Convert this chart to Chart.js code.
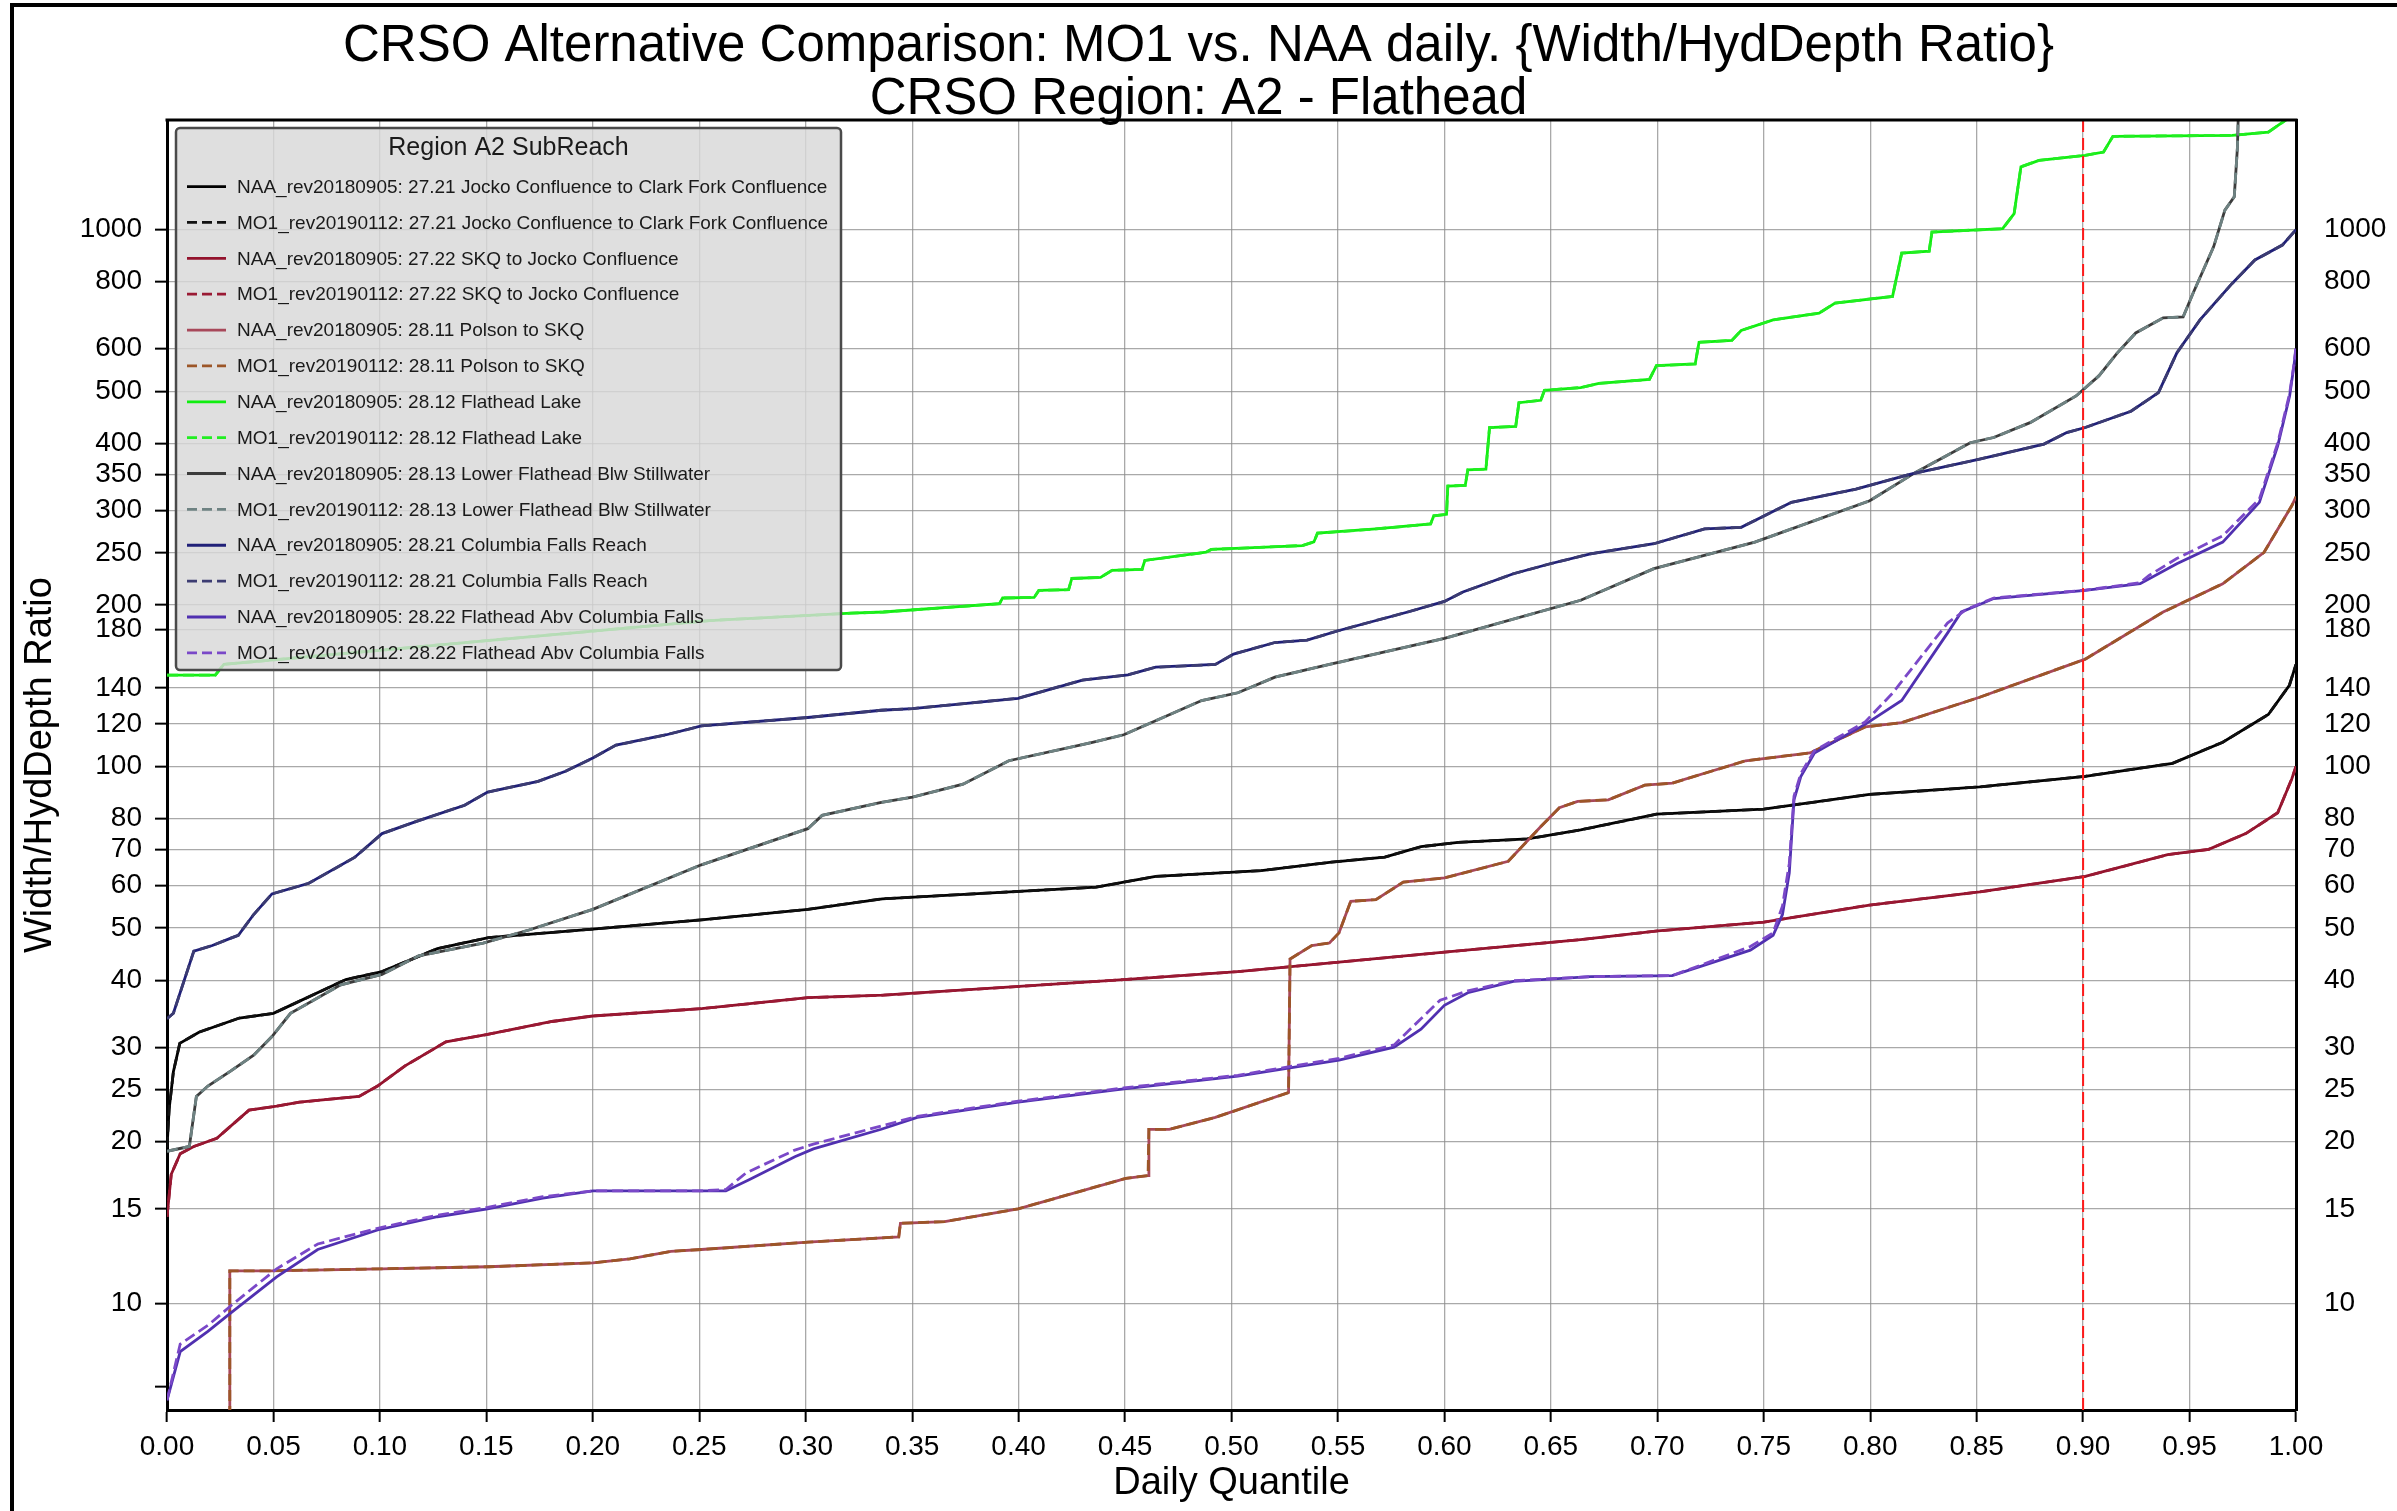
<!DOCTYPE html>
<html><head><meta charset="utf-8">
<script src="https://cdn.jsdelivr.net/npm/chart.js@4"></script>
<style>html,body{margin:0;padding:0;background:#fff;}canvas{display:block;}</style>
</head><body>
<canvas id="c" width="2397" height="1511"></canvas>
<script>
// ---------- DATA ----------
const chartTitle = ['CRSO Alternative Comparison: MO1 vs. NAA daily. {Width/HydDepth Ratio}', 'CRSO Region: A2 - Flathead'];
const xAxisTitle = 'Daily Quantile';
const yAxisTitle = 'Width/HydDepth Ratio';
const legendTitle = 'Region A2 SubReach';
const xTickValues = [0,0.05,0.10,0.15,0.20,0.25,0.30,0.35,0.40,0.45,0.50,0.55,0.60,0.65,0.70,0.75,0.80,0.85,0.90,0.95,1.00];
const yTickValues = [7,10,15,20,25,30,40,50,60,70,80,100,120,140,180,200,250,300,350,400,500,600,800,1000];
const yTickLabels = ['','10','15','20','25','30','40','50','60','70','80','100','120','140','180','200','250','300','350','400','500','600','800','1000'];
const yMin = 6.33, yMax = 1600;
const refQuantile = 0.90;

const seriesLabels = [
 'NAA_rev20180905: 27.21 Jocko Confluence to Clark Fork Confluence',
 'MO1_rev20190112: 27.21 Jocko Confluence to Clark Fork Confluence',
 'NAA_rev20180905: 27.22 SKQ to Jocko Confluence',
 'MO1_rev20190112: 27.22 SKQ to Jocko Confluence',
 'NAA_rev20180905: 28.11 Polson to SKQ',
 'MO1_rev20190112: 28.11 Polson to SKQ',
 'NAA_rev20180905: 28.12 Flathead Lake',
 'MO1_rev20190112: 28.12 Flathead Lake',
 'NAA_rev20180905: 28.13 Lower Flathead Blw Stillwater',
 'MO1_rev20190112: 28.13 Lower Flathead Blw Stillwater',
 'NAA_rev20180905: 28.21 Columbia Falls Reach',
 'MO1_rev20190112: 28.21 Columbia Falls Reach',
 'NAA_rev20180905: 28.22 Flathead Abv Columbia Falls',
 'MO1_rev20190112: 28.22 Flathead Abv Columbia Falls'
];

// 27.21 Jocko Confluence to Clark Fork Confluence
const jockoX = [0,0.001,0.003,0.006,0.015,0.034,0.05,0.058,0.084,0.101,0.127,0.151,0.2,0.251,0.301,0.336,0.4364,0.4644,0.514,0.546,0.572,0.589,0.6065,0.639,0.664,0.6996,0.75,0.7997,0.8514,0.901,0.942,0.9656,0.987,0.9969,1.0];
const jockoNAA = [19.5,23,27,30.5,32,34,34.7,35.9,40.1,41.5,45.8,48,49.8,51.8,54.2,56.7,59.6,62.4,64,66.3,67.8,70.9,72.2,73.3,76.2,81.5,83.3,88.7,91.6,95.9,101.4,111,125,141.7,155];
const jockoMO1 = [19.5,23,27,30.5,32,34,34.7,35.9,40.1,41.5,45.8,48,49.8,51.8,54.2,56.7,59.6,62.4,64,66.3,67.8,70.9,72.2,73.3,76.2,81.5,83.3,88.7,91.6,95.9,101.4,111,125,141.7,155];

// 27.22 SKQ to Jocko Confluence
const skqX = [0,0.002,0.0062,0.0126,0.0234,0.0385,0.0515,0.0622,0.0902,0.0989,0.1118,0.131,0.1506,0.1808,0.2,0.251,0.301,0.3365,0.4494,0.503,0.5505,0.6,0.664,0.7003,0.75,0.7997,0.8514,0.901,0.9397,0.959,0.9764,0.9914,0.998,1.0];
const skqNAA = [14.5,17.4,19.0,19.6,20.3,22.9,23.3,23.7,24.3,25.4,27.7,30.7,31.7,33.5,34.3,35.4,37.1,37.5,40.1,41.5,43.2,45.1,47.6,49.4,51.3,55.2,58.4,62.4,68.5,70.1,75,82,94.8,100];
const skqMO1 = [14.5,17.4,19.0,19.6,20.3,22.9,23.3,23.7,24.3,25.4,27.7,30.7,31.7,33.5,34.3,35.4,37.1,37.5,40.1,41.5,43.2,45.1,47.6,49.4,51.3,55.2,58.4,62.4,68.5,70.1,75,82,94.8,100];

// 28.11 Polson to SKQ
const polsonX = [0.0295,0.0295,0.049,0.101,0.151,0.2,0.2174,0.2367,0.251,0.301,0.3437,0.3445,0.3653,0.3998,0.4504,0.4608,0.4612,0.4708,0.4924,0.5268,0.5275,0.5377,0.546,0.5505,0.556,0.5678,0.5807,0.6,0.63,0.6453,0.654,0.6626,0.677,0.6941,0.707,0.7415,0.7717,0.7976,0.8148,0.8514,0.901,0.9376,0.9656,0.985,0.998,1.0];
const polsonNAA = [5,11.5,11.5,11.6,11.7,11.9,12.1,12.5,12.6,13.0,13.3,14.1,14.2,15.0,17.1,17.3,21.1,21.1,22.2,24.7,43.8,46.4,46.9,49,56.1,56.5,60.9,62,66.6,77.3,83.8,86.1,86.7,92.3,93.1,102.5,106,118.5,120.7,134.6,158.5,194,219,250.6,306,318];
const polsonMO1 = [5,11.5,11.5,11.6,11.7,11.9,12.1,12.5,12.6,13.0,13.3,14.1,14.2,15.0,17.1,17.3,21.1,21.1,22.2,24.7,43.8,46.4,46.9,49,56.1,56.5,60.9,62,66.6,77.3,83.8,86.1,86.7,92.3,93.1,102.5,106,118.5,120.7,134.6,158.5,194,219,250.6,306,318];

// 28.12 Flathead Lake
const lakeX = [0,0.0227,0.0267,0.2547,0.3213,0.3365,0.391,0.3925,0.4073,0.4095,0.4235,0.425,0.4385,0.4439,0.458,0.4593,0.488,0.4905,0.5333,0.5387,0.5404,0.5678,0.5935,0.595,0.601,0.6016,0.6098,0.611,0.6195,0.6212,0.6335,0.635,0.6453,0.647,0.664,0.6726,0.6963,0.6996,0.7178,0.7196,0.735,0.7394,0.7544,0.776,0.7835,0.8105,0.8148,0.8277,0.829,0.8622,0.8676,0.8708,0.8793,0.901,0.9096,0.914,0.97,0.987,1.0];
const lakeNAA = [148,148,155,187,193,194,201,206,206.5,212.8,213.5,224,225,232,233,242,250.7,253.7,258,262,272,277,283,293,295,333,334,357,358,428,430,476,481,502,508,517,526,558,562,617,622,649,679,699,730,751,904,912,990,1004,1071,1309,1346,1375,1395,1492,1498,1519,1650];
const lakeMO1 = [148,148,155,187,193,194,201,206,206.5,212.8,213.5,224,225,232,233,242,250.7,253.7,258,262,272,277,283,293,295,333,334,357,358,428,430,476,481,502,508,517,526,558,562,617,622,649,679,699,730,751,904,912,990,1004,1071,1309,1346,1375,1395,1492,1498,1519,1650];

// 28.13 Lower Flathead Blw Stillwater
const lowerX = [0,0.0105,0.0138,0.0192,0.030,0.0407,0.0493,0.058,0.0816,0.101,0.1182,0.1485,0.17,0.2,0.251,0.301,0.3077,0.3355,0.3502,0.3739,0.3954,0.4342,0.4494,0.486,0.503,0.5204,0.546,0.6,0.664,0.6984,0.7458,0.7998,0.8213,0.847,0.858,0.8751,0.8967,0.9074,0.916,0.9247,0.9376,0.947,0.9517,0.9613,0.9666,0.971,0.9725,0.973];
const lowerNAA = [19.2,19.6,24.3,25.4,27.1,29,31.4,34.7,39.2,41,44.4,46.9,49.6,54.2,65.6,76.6,81.1,85.7,87.7,92.7,102.5,110.8,114.6,132.7,137.2,146.7,154.9,173.2,204,233.6,261.8,312.7,353,401,410,437,490,534,589,642,685,688,762,929,1087,1151,1425,1700];
const lowerMO1 = [19.2,19.6,24.3,25.4,27.1,29,31.4,34.7,39.2,41,44.4,46.9,49.6,54.2,65.6,76.6,81.1,85.7,87.7,92.7,102.5,110.8,114.6,132.7,137.2,146.7,154.9,173.2,204,233.6,261.8,312.7,353,401,410,437,490,534,589,642,685,688,762,929,1087,1151,1425,1700];

// 28.21 Columbia Falls Reach
const cfallsX = [0,0.003,0.0126,0.0213,0.030,0.0335,0.0407,0.0493,0.0666,0.0881,0.101,0.1182,0.1398,0.1506,0.1743,0.1872,0.2,0.2109,0.2346,0.251,0.301,0.3355,0.3502,0.3998,0.43,0.4514,0.4644,0.4924,0.501,0.5204,0.5355,0.5505,0.5828,0.6,0.6087,0.6324,0.6497,0.6686,0.6984,0.7222,0.7394,0.763,0.7933,0.819,0.8514,0.8816,0.8923,0.901,0.9225,0.9354,0.944,0.9549,0.97,0.9807,0.9936,1.0];
const cfallsNAA = [33.9,34.7,45.3,46.4,47.9,48.5,53,57.9,60.6,67.7,75,79.3,84.7,89.6,93.8,98,103.7,109.6,114.6,119,123.4,127.3,128.2,134,144.9,148.2,153.1,154.9,162,170.2,172,179.2,194,203,211.4,228.6,238.6,249,260,277,279,310.5,328.6,350.4,373.7,398.6,418.8,428,459,497,589,679,794,878,936,1000];
const cfallsMO1 = [33.9,34.7,45.3,46.4,47.9,48.5,53,57.9,60.6,67.7,75,79.3,84.7,89.6,93.8,98,103.7,109.6,114.6,119,123.4,127.3,128.2,134,144.9,148.2,153.1,154.9,162,170.2,172,179.2,194,203,211.4,228.6,238.6,249,260,277,279,310.5,328.6,350.4,373.7,398.6,418.8,428,459,497,589,679,794,878,936,1000];

// 28.22 Flathead Abv Columbia Falls
const abvX_NAA = [0,0.0062,0.0192,0.030,0.0515,0.0708,0.0989,0.127,0.1506,0.1765,0.2,0.251,0.2625,0.2734,0.2949,0.3036,0.3355,0.3524,0.3998,0.4494,0.503,0.5505,0.5764,0.589,0.6,0.611,0.6324,0.6686,0.707,0.72,0.7437,0.7544,0.7588,0.762,0.7642,0.7674,0.7738,0.7976,0.8148,0.8363,0.8428,0.8514,0.858,0.901,0.9268,0.944,0.9656,0.9828,0.9914,0.997,0.999,1.0];
const abvNAA = [6.6,8.13,8.87,9.6,11.2,12.6,13.7,14.5,15.0,15.7,16.2,16.2,16.2,17.0,18.75,19.4,21.1,22.2,23.7,25.1,26.5,28.4,30,32.4,35.9,37.9,39.8,40.6,40.8,42.4,45.5,48.5,53,63.4,86.7,95.8,106,119.8,132.7,177.2,194,200.4,205.5,212.8,219,238.6,261.8,310.5,395.8,489.8,556.7,600];
const abvX_MO1 = [0,0.0062,0.0192,0.030,0.0515,0.0708,0.0989,0.127,0.1506,0.1765,0.2,0.251,0.2625,0.272,0.2949,0.3036,0.3355,0.3524,0.3998,0.4494,0.503,0.5505,0.5764,0.589,0.598,0.611,0.6324,0.6686,0.707,0.72,0.7437,0.7544,0.7588,0.762,0.7642,0.7674,0.7738,0.7976,0.8105,0.8363,0.845,0.858,0.901,0.9268,0.931,0.944,0.9656,0.9828,0.9914,0.997,0.999,1.0];
const abvMO1 = [6.6,8.4,9.1,9.9,11.6,12.9,13.8,14.6,15.1,15.8,16.2,16.2,16.3,17.5,19.3,19.8,21.4,22.3,23.8,25.2,26.6,28.6,30.3,33.9,36.7,38.2,39.9,40.6,40.8,42.6,46.2,49,55,66,88,97,107,121,137,185,196,206,213,220,227,244,269,315,400,495,560,605];

// ---------- STYLE ----------
const FONT = "'Liberation Sans', Arial, Helvetica, sans-serif";
function mk(i, xs, ys, color, dashed) {
  return {
    label: seriesLabels[i],
    data: xs.map((x, k) => ({x: x, y: ys[k]})),
    borderColor: color, backgroundColor: color,
    borderWidth: 2.8,
    borderDash: dashed ? [11, 5] : [],
    pointRadius: 0, pointHoverRadius: 0, fill: false, tension: 0,
    order: 100 - i
  };
}
const datasets = [
  mk(0, jockoX, jockoNAA, '#000000', false),
  mk(1, jockoX, jockoMO1, '#111111', true),
  mk(2, skqX, skqNAA, '#93122c', false),
  mk(3, skqX, skqMO1, '#9a1a34', true),
  mk(4, polsonX, polsonNAA, '#a8485a', false),
  mk(5, polsonX, polsonMO1, '#9c5628', true),
  mk(6, lakeX, lakeNAA, '#10ee10', false),
  mk(7, lakeX, lakeMO1, '#22ee22', true),
  mk(8, lowerX, lowerNAA, '#3c3c3c', false),
  mk(9, lowerX, lowerMO1, '#6e8282', true),
  mk(10, cfallsX, cfallsNAA, '#202078', false),
  mk(11, cfallsX, cfallsMO1, '#3c3c72', true),
  mk(12, abvX_NAA, abvNAA, '#5030b0', false),
  mk(13, abvX_MO1, abvMO1, '#7a48c8', true)
];
datasets.push({
  label: 'ref90', data: [{x: refQuantile, y: yMin}, {x: refQuantile, y: yMax}],
  borderColor: '#ff1a1a', borderWidth: 2, borderDash: [12, 6],
  pointRadius: 0, fill: false, order: 0, isRef: true
});

const framePlugin = {
  id: 'frame',
  beforeDraw(chart) {
    const ctx = chart.ctx;
    ctx.save();
    ctx.fillStyle = '#fff';
    ctx.fillRect(0, 0, chart.width, chart.height);
    ctx.strokeStyle = '#000';
    ctx.lineWidth = 4;
    ctx.beginPath();
    ctx.moveTo(12, chart.height); ctx.lineTo(12, 5); ctx.lineTo(chart.width, 5);
    ctx.stroke();
    ctx.restore();
  },
  afterDatasetsDraw(chart) {
    const ca = chart.chartArea, ctx = chart.ctx;
    ctx.save();
    ctx.strokeStyle = '#000'; ctx.lineWidth = 3;
    ctx.beginPath(); ctx.moveTo(ca.left - 1.5, ca.top); ctx.lineTo(ca.right + 1.5, ca.top); ctx.stroke();
    ctx.restore();
  }
};

const boxLegendPlugin = {
  id: 'boxLegend',
  afterDraw(chart) {
    const ca = chart.chartArea, ctx = chart.ctx;
    const left = ca.left + 9, top = ca.top + 8, w = 665, h = 542;
    ctx.save();
    ctx.fillStyle = 'rgba(216,216,216,0.82)';
    ctx.strokeStyle = '#4a4a4a'; ctx.lineWidth = 2.5;
    ctx.beginPath();
    if (ctx.roundRect) ctx.roundRect(left, top, w, h, 4); else ctx.rect(left, top, w, h);
    ctx.fill(); ctx.stroke();
    ctx.fillStyle = '#1a1a1a';
    ctx.textBaseline = 'middle';
    ctx.textAlign = 'center';
    ctx.font = '25px ' + FONT;
    ctx.fillText(legendTitle, left + w / 2, top + 20);
    ctx.textAlign = 'left';
    ctx.font = '19px ' + FONT;
    const items = chart.data.datasets.filter(d => !d.isRef);
    items.forEach((d, i) => {
      const y = top + 58.5 + i * 35.87;
      ctx.strokeStyle = d.borderColor; ctx.lineWidth = 2.8;
      ctx.setLineDash(d.borderDash && d.borderDash.length ? [10, 5] : []);
      ctx.beginPath(); ctx.moveTo(left + 11, y); ctx.lineTo(left + 50, y); ctx.stroke();
      ctx.setLineDash([]);
      ctx.fillStyle = '#1a1a1a';
      ctx.fillText(d.label, left + 61, y + 1);
    });
    ctx.restore();
  }
};

const gridColor = (c) => (c.tick && c.tick.value === 7) ? 'rgba(0,0,0,0)' : 'rgba(140,140,140,0.75)';

new Chart(document.getElementById('c'), {
  type: 'line',
  data: { datasets: datasets },
  plugins: [framePlugin, boxLegendPlugin],
  options: {
    responsive: false, animation: false, devicePixelRatio: 1,
    layout: { padding: 0 },
    plugins: {
      legend: { display: false },
      tooltip: { enabled: false },
      title: {
        display: true, text: chartTitle, color: '#000',
        font: { family: FONT, size: 51, weight: 'normal', lineHeight: 1.03 },
        padding: { top: 21, bottom: -6 }
      }
    },
    scales: {
      x: {
        type: 'linear', min: 0, max: 1, position: 'bottom',
        afterBuildTicks: (s) => { s.ticks = xTickValues.map(v => ({value: v})); },
        afterFit: (s) => { s.height = 101; },
        ticks: { autoSkip: false, maxRotation: 0, color: '#000', padding: 8,
                 font: { family: FONT, size: 28 }, callback: (v) => Number(v).toFixed(2) },
        grid: { color: 'rgba(140,140,140,0.75)', lineWidth: 1.3, tickColor: '#000', tickLength: 12, tickWidth: 2 },
        border: { color: '#000', width: 3 },
        title: { display: true, text: xAxisTitle, color: '#000', font: { family: FONT, size: 38 }, padding: { top: 0, bottom: 5 } }
      },
      y: {
        type: 'logarithmic', min: yMin, max: yMax, position: 'left',
        afterBuildTicks: (s) => { s.ticks = yTickValues.map(v => ({value: v})); },
        afterFit: (s) => { s.width = 167; },
        ticks: { autoSkip: false, color: '#000', padding: 13, font: { family: FONT, size: 28 },
                 callback: (v) => { const k = yTickValues.indexOf(v); return k >= 0 ? yTickLabels[k] : ''; } },
        grid: { color: gridColor, lineWidth: 1.3, tickColor: '#000', tickLength: 12, tickWidth: 2 },
        border: { color: '#000', width: 3 },
        title: { display: true, text: yAxisTitle, color: '#000', font: { family: FONT, size: 38 }, padding: { top: 18, bottom: 0 } }
      },
      y2: {
        type: 'logarithmic', min: yMin, max: yMax, position: 'right',
        afterBuildTicks: (s) => { s.ticks = yTickValues.map(v => ({value: v})); },
        afterFit: (s) => { s.width = 101; },
        ticks: { autoSkip: false, color: '#000', padding: 28, font: { family: FONT, size: 28 },
                 callback: (v) => { const k = yTickValues.indexOf(v); return k >= 0 ? yTickLabels[k] : ''; } },
        grid: { display: true, drawOnChartArea: false, drawTicks: false },
        border: { color: '#000', width: 3 }
      }
    }
  }
});
</script>
</body></html>
